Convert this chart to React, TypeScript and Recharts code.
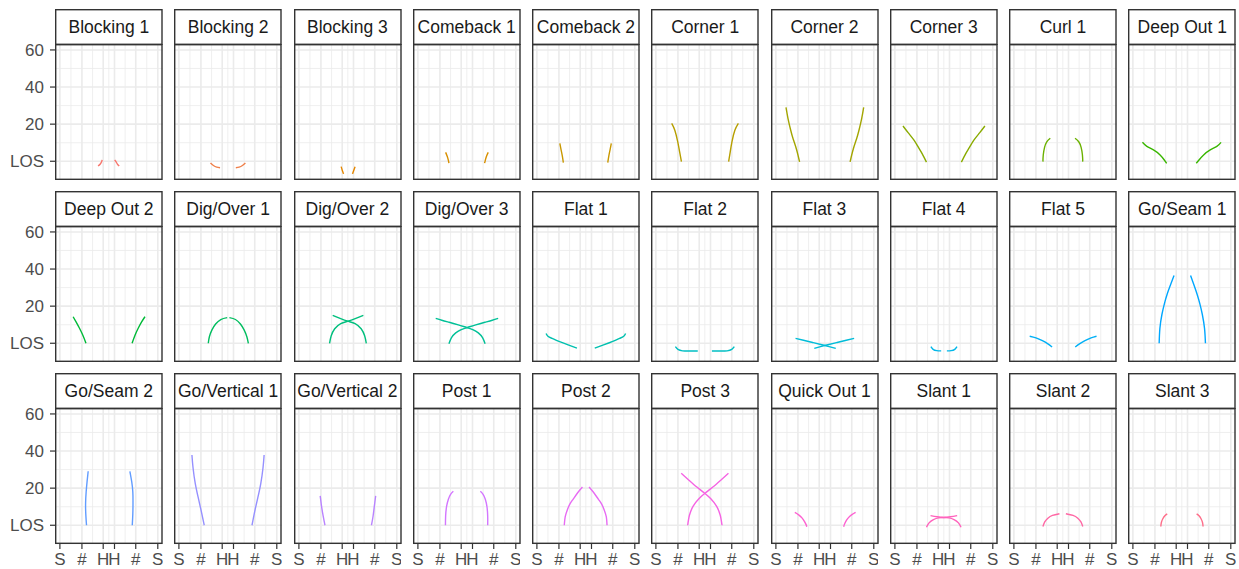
import React from 'react';
import { LineChart, Line, XAxis, YAxis, CartesianGrid } from 'recharts';

type Pt = [number, number];

const routeNames = [
  'Blocking 1', 'Blocking 2', 'Blocking 3', 'Comeback 1', 'Comeback 2',
  'Corner 1', 'Corner 2', 'Corner 3', 'Curl 1', 'Deep Out 1',
  'Deep Out 2', 'Dig/Over 1', 'Dig/Over 2', 'Dig/Over 3', 'Flat 1',
  'Flat 2', 'Flat 3', 'Flat 4', 'Flat 5', 'Go/Seam 1',
  'Go/Seam 2', 'Go/Vertical 1', 'Go/Vertical 2', 'Post 1', 'Post 2',
  'Post 3', 'Quick Out 1', 'Slant 1', 'Slant 2', 'Slant 3',
];

// route paths in yards: [field x, yards past LOS]
const leftPaths: Pt[][] = [
  [[20.8, -2.6], [22.0, -1.5], [22.7, -0.3], [23.0, 0.7]],
  [[17.2, -0.9], [18.8, -2.3], [20.6, -3.2], [22.4, -3.5]],
  [[23.0, -2.9], [23.6, -4.8], [24.3, -6.8]],
  [[15.1, 4.8], [16.0, 2.6], [16.6, 0.5], [16.9, -1.0]],
  [[12.5, 9.6], [13.2, 6.0], [13.9, 2.5], [14.4, -0.7]],
  [[8.6, 20.4], [10.3, 16.7], [11.9, 10.5], [12.9, 5.2], [13.9, -0.2]],
  [[5.5, 29.0], [6.6, 23.0], [8.0, 17.0], [9.4, 12.0], [11.2, 6.5], [12.9, -0.3]],
  [[4.4, 19.0], [7.3, 15.3], [10.3, 11.5], [12.8, 7.5], [14.9, 4.0], [17.2, -0.5]],
  [[15.8, -0.2], [16.0, 3.5], [16.7, 7.5], [17.9, 10.5], [19.8, 12.4]],
  [[5.2, 10.2], [7.6, 8.0], [11.2, 6.1], [14.8, 3.4], [17.0, 0.8], [18.4, -1.1]],
  [[7.2, 14.3], [8.8, 11.5], [10.6, 8.2], [12.5, 4.3], [14.2, 0.0]],
  [[16.0, 0.0], [16.6, 3.5], [18.0, 7.2], [20.0, 10.4], [22.8, 12.8], [26.3, 13.8]],
  [[16.7, 0.0], [17.6, 4.0], [19.5, 7.8], [22.8, 10.6], [26.8, 11.9], [31.0, 13.4], [35.1, 15.0]],
  [[16.9, -0.3], [18.3, 3.0], [20.6, 5.6], [23.6, 7.4], [26.9, 8.5], [31.5, 9.9], [36.5, 11.3], [40.5, 12.4], [43.7, 13.4]],
  [[5.0, 5.3], [6.0, 3.8], [8.3, 2.6], [12.0, 1.0], [17.0, -0.9], [21.8, -2.6]],
  [[10.6, -1.8], [12.0, -3.3], [14.5, -4.1], [18.5, -4.2], [22.8, -4.2]],
  [[10.7, 2.6], [15.0, 1.6], [20.0, 0.4], [25.0, -0.8], [29.0, -1.8], [32.6, -2.8]],
  [[19.6, -1.8], [20.8, -3.3], [22.8, -4.0], [25.2, -4.1]],
  [[8.6, 3.8], [12.0, 2.9], [15.5, 1.4], [18.5, -0.3], [20.8, -2.0]],
  [[14.3, 0.0], [14.7, 8.0], [15.8, 15.5], [17.2, 21.5], [18.6, 26.3], [20.5, 31.5], [22.4, 36.5]],
  [[14.5, 0.0], [14.1, 6.0], [14.0, 12.0], [14.3, 18.0], [14.8, 23.5], [15.4, 29.1]],
  [[7.1, 37.9], [7.7, 31.0], [8.9, 22.6], [10.5, 15.0], [12.2, 7.5], [13.8, 0.0]],
  [[11.6, 15.8], [12.3, 10.5], [13.2, 5.0], [14.2, 0.0]],
  [[15.0, 0.0], [15.1, 5.0], [15.6, 10.0], [16.6, 14.0], [17.8, 16.7], [19.3, 18.3]],
  [[14.9, 0.0], [15.4, 4.5], [16.6, 8.4], [18.0, 11.5], [19.7, 14.0], [22.2, 17.5], [24.8, 20.6]],
  [[17.3, 0.0], [18.3, 5.5], [20.3, 10.3], [23.4, 14.3], [26.9, 17.4], [31.0, 20.6], [35.3, 24.3], [39.5, 28.0]],
  [[10.3, 6.9], [12.4, 5.6], [14.2, 4.0], [15.6, 2.0], [16.5, 0.2], [16.8, -0.8]],
  [[17.2, -1.1], [18.6, 1.3], [21.0, 3.1], [23.8, 4.0], [26.6, 4.2], [30.2, 4.6], [33.9, 5.2]],
  [[15.8, -0.7], [16.8, 1.8], [18.5, 3.8], [21.0, 5.3], [24.8, 6.2]],
  [[15.2, -0.7], [15.5, 1.5], [16.3, 3.5], [17.4, 5.1], [18.7, 6.1]],
];

const rightPaths: Pt[][] = [
  [[29.8, 0.7], [30.6, -0.3], [31.3, -1.5], [32.3, -2.6]],
  [[31.0, -3.5], [32.8, -3.2], [34.6, -2.3], [36.2, -0.9]],
  [[30.6, -2.9], [29.9, -4.8], [29.2, -6.8]],
  [[38.3, 4.8], [37.3, 2.6], [36.7, 0.5], [36.3, -1.0]],
  [[40.5, 9.6], [39.8, 6.0], [39.1, 2.5], [38.6, -0.7]],
  [[39.6, -0.2], [40.5, 5.2], [41.4, 10.5], [43.0, 16.7], [44.9, 20.4]],
  [[40.4, -0.3], [42.1, 6.5], [43.9, 12.0], [45.3, 17.0], [46.7, 23.0], [47.8, 29.0]],
  [[36.2, -0.5], [38.5, 4.0], [40.6, 7.5], [43.1, 11.5], [46.1, 15.3], [49.0, 19.0]],
  [[33.3, 12.4], [35.3, 10.5], [36.6, 7.5], [37.3, 3.5], [37.5, -0.2]],
  [[34.5, -1.1], [36.1, 0.8], [38.5, 3.4], [42.1, 6.1], [45.7, 8.0], [48.0, 10.2]],
  [[39.3, 0.0], [40.9, 4.3], [42.7, 8.2], [44.5, 11.5], [46.3, 14.3]],
  [[27.5, 13.8], [30.8, 12.8], [33.5, 10.4], [35.5, 7.2], [37.0, 3.5], [37.8, 0.0]],
  [[36.7, 0.0], [35.8, 4.0], [33.9, 7.8], [30.6, 10.6], [26.6, 11.9], [22.4, 13.4], [18.4, 15.0]],
  [[36.6, -0.3], [35.2, 3.0], [32.9, 5.6], [29.9, 7.4], [26.6, 8.5], [22.0, 9.9], [17.0, 11.3], [13.0, 12.4], [9.7, 13.4]],
  [[31.5, -2.6], [36.3, -0.9], [41.3, 1.0], [45.0, 2.6], [47.3, 3.8], [48.3, 5.3]],
  [[30.5, -4.2], [34.8, -4.2], [38.8, -4.1], [41.3, -3.3], [42.7, -1.8]],
  [[42.6, 2.6], [38.3, 1.6], [33.3, 0.4], [28.3, -0.8], [24.3, -1.8], [20.9, -2.8]],
  [[28.3, -4.1], [30.6, -4.0], [32.6, -3.3], [33.8, -1.8]],
  [[33.4, -2.0], [35.7, -0.3], [38.7, 1.4], [42.0, 2.9], [45.0, 3.8]],
  [[31.4, 36.5], [33.2, 31.5], [35.0, 26.3], [36.4, 21.5], [37.8, 15.5], [39.0, 8.0], [39.5, 0.0]],
  [[39.4, 0.0], [39.7, 6.0], [39.8, 12.0], [39.7, 18.0], [39.1, 23.5], [38.1, 29.1]],
  [[39.8, 0.0], [41.3, 7.5], [43.0, 15.0], [44.6, 22.6], [45.8, 31.0], [46.4, 37.9]],
  [[39.5, 0.0], [40.4, 5.0], [41.1, 10.5], [41.8, 15.8]],
  [[34.0, 18.3], [35.5, 16.7], [36.7, 14.0], [37.6, 10.0], [38.0, 5.0], [38.0, 0.0]],
  [[28.4, 20.6], [31.0, 17.5], [33.5, 14.0], [35.2, 11.5], [36.6, 8.4], [37.8, 4.5], [38.2, 0.0]],
  [[36.0, 0.0], [35.0, 5.5], [33.0, 10.3], [29.9, 14.3], [26.4, 17.4], [22.3, 20.6], [18.0, 24.3], [13.8, 28.0]],
  [[36.9, -0.8], [37.2, 0.2], [38.0, 2.0], [39.4, 4.0], [41.2, 5.6], [43.4, 6.9]],
  [[36.0, -1.1], [34.6, 1.3], [32.2, 3.1], [29.4, 4.0], [26.6, 4.2], [23.0, 4.6], [19.4, 5.2]],
  [[28.3, 6.2], [32.2, 5.3], [34.8, 3.8], [36.5, 1.8], [37.5, -0.7]],
  [[34.7, 6.1], [36.0, 5.1], [37.1, 3.5], [37.9, 1.5], [38.2, -0.7]],
];

const xTicks = [0, 12, 23.58, 29.73, 41.3, 53.3];
const xTickLabels = ['S', '#', 'H', 'H', '#', 'S'];
const xMinor = [6, 17.79, 26.655, 35.515, 47.3];
const yTicks = [0, 20, 40, 60];
const yTickLabels = ['LOS', '20', '40', '60'];
const yMinor = [-10, 10, 30, 50];

const X_DOMAIN: [number, number] = [-2.665, 55.965];
const Y_DOMAIN: [number, number] = [-10.1, 63.2];

// layout
const COL_X0 = 55;
const COL_STEP = 119.27;
const PANEL_W = 107.7;
const ROW_Y0 = 9;
const ROW_STEP = 182.2;
const STRIP_H = 35;
const PANEL_H = 136;
const Y_AXIS_W = 55;
const X_AXIS_H = 24;
const PAD = 12; // room above the plot for the top y tick label
const FONT = '"Liberation Sans", Arial, Helvetica, sans-serif';

// ggplot2 default hue palette (hcl, c=100, l=65)
function hcl(h: number, c: number, l: number) {
  const WX = 95.047, WY = 100, WZ = 108.883;
  const hr = (h * Math.PI) / 180;
  const U = c * Math.cos(hr), V = c * Math.sin(hr);
  const Y = WY * (l > 8 ? Math.pow((l + 16) / 116, 3) : l / 903.3);
  const den = WX + 15 * WY + 3 * WZ;
  const u = U / (13 * l) + (4 * WX) / den;
  const v = V / (13 * l) + (9 * WY) / den;
  const X = (9 * Y * u) / (4 * v);
  const Z = -X / 3 - 5 * Y + (3 * Y) / v;
  const g = (t: number) => (t > 0.00304 ? 1.055 * Math.pow(t, 1 / 2.4) - 0.055 : 12.92 * t);
  const ch = (t: number) => {
    const k = Math.round(Math.min(1, Math.max(0, g(t))) * 255);
    return k.toString(16).padStart(2, '0');
  };
  const r = (3.240479 * X - 1.53715 * Y - 0.498535 * Z) / WY;
  const gg = (-0.969256 * X + 1.875992 * Y + 0.041556 * Z) / WY;
  const b = (0.055648 * X - 0.204043 * Y + 1.057311 * Z) / WY;
  return '#' + ch(r) + ch(gg) + ch(b);
}

const colorFor = (i: number) => hcl(15 + (360 / routeNames.length) * i, 100, 65);
const toPts = (p: Pt[]) => p.map(([x, y]) => ({ x, y }));

const tickStyle = { fill: '#4D4D4D', fontSize: 17, fontFamily: FONT };

const Frame: React.FC<{ left: number; top: number; width: number; height: number }> = ({ left, top, width, height }) => (
  <svg
    width={width}
    height={height}
    style={{ position: 'absolute', left, top, pointerEvents: 'none', overflow: 'visible' }}
  >
    <rect x={0.7} y={0.7} width={width - 1.4} height={height - 1.4} fill="none" stroke="#333333" strokeWidth={1.4} />
  </svg>
);

const Panel: React.FC<{ idx: number }> = ({ idx }) => {
  const r = Math.floor(idx / 10);
  const c = idx % 10;
  const left = COL_X0 + c * COL_STEP;
  const stripTop = ROW_Y0 + r * ROW_STEP;
  const top = stripTop + STRIP_H;
  const showY = c === 0;
  const showX = r === 2;
  const w = PANEL_W + (showY ? Y_AXIS_W : 0);
  const h = PANEL_H + PAD + (showX ? X_AXIS_H : 0);
  const color = colorFor(idx);

  return (
    <>
      <div
        style={{
          position: 'absolute',
          left,
          top: stripTop,
          width: PANEL_W,
          height: STRIP_H + 1,
          background: '#fff',
          display: 'flex',
          alignItems: 'center',
          justifyContent: 'center',
          fontSize: 17.5,
          color: '#1A1A1A',
          whiteSpace: 'nowrap',
        }}
      >
        {routeNames[idx]}
      </div>
      <Frame left={left} top={stripTop} width={PANEL_W} height={STRIP_H + 1} />
      <div style={{ position: 'absolute', left: left - (showY ? Y_AXIS_W : 0), top: top - PAD, width: w, height: h }}>
        <LineChart width={w} height={h} margin={{ top: PAD, right: 0, bottom: 0, left: 0 }}>
          <CartesianGrid
            stroke="#EBEBEB"
            strokeWidth={0.8}
            verticalValues={xMinor}
            horizontalValues={yMinor}
          />
          <CartesianGrid
            stroke="#EBEBEB"
            strokeWidth={1.6}
            verticalValues={xTicks}
            horizontalValues={yTicks}
          />
          <XAxis
            type="number"
            dataKey="x"
            domain={X_DOMAIN}
            allowDataOverflow
            ticks={xTicks}
            interval={0}
            tickFormatter={(v: number) => xTickLabels[xTicks.indexOf(v)]}
            height={X_AXIS_H}
            axisLine={false}
            tickSize={5}
            tickMargin={4}
            tickLine={{ stroke: '#333', strokeWidth: 1.2 }}
            tick={tickStyle}
            hide={!showX}
          />
          <YAxis
            type="number"
            domain={Y_DOMAIN}
            allowDataOverflow
            ticks={yTicks}
            interval={0}
            tickFormatter={(v: number) => yTickLabels[yTicks.indexOf(v)]}
            width={Y_AXIS_W}
            axisLine={false}
            tickSize={5}
            tickMargin={6}
            tickLine={{ stroke: '#333', strokeWidth: 1.2 }}
            tick={tickStyle}
            hide={!showY}
          />
          <Line
            data={toPts(leftPaths[idx])}
            dataKey="y"
            type="natural"
            stroke={color}
            strokeWidth={1.4}
            dot={false}
            isAnimationActive={false}
          />
          <Line
            data={toPts(rightPaths[idx])}
            dataKey="y"
            type="natural"
            stroke={color}
            strokeWidth={1.4}
            dot={false}
            isAnimationActive={false}
          />
        </LineChart>
      </div>
      <Frame left={left} top={top} width={PANEL_W} height={PANEL_H} />
    </>
  );
};

export default function App() {
  return (
    <div
      style={{
        position: 'absolute',
        left: 0,
        top: 0,
        width: 1239,
        height: 569,
        background: '#fff',
        overflow: 'hidden',
        fontFamily: FONT,
      }}
    >
      {routeNames.map((_, i) => (
        <Panel key={i} idx={i} />
      ))}
    </div>
  );
}
